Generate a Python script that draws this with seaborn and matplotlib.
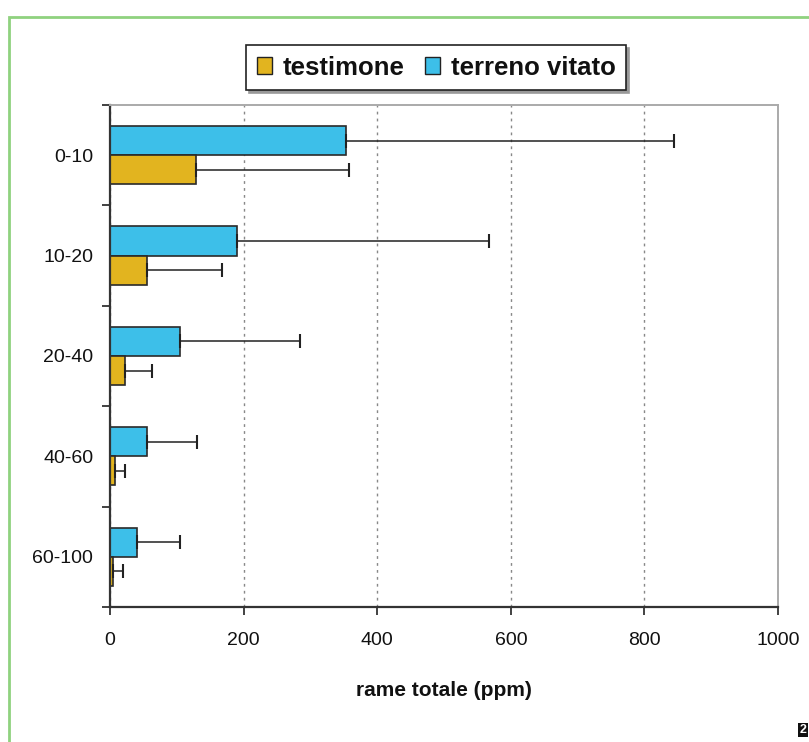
import pandas as pd
import matplotlib.pyplot as plt
import matplotlib.patches as mpatches
from matplotlib.ticker import FixedLocator, NullFormatter
import seaborn as sb

depths = ['0-10', '10-20', '20-40', '40-60', '60-100']
testimone = [128, 56, 22, 8, 4]
testimone_err = [230, 112, 41, 14, 15]
vitato = [353, 190, 105, 55, 40]
vitato_err = [491, 377, 179, 75, 65]
x_ticks = [0, 200, 400, 600, 800, 1000]

df = pd.DataFrame({'depth': depths * 2,
                   'value': vitato + testimone,
                   'serie': ['terreno vitato'] * 5 + ['testimone'] * 5})
errs = {'terreno vitato': vitato_err, 'testimone': testimone_err}

sb.set_style('white')
plt.rcParams['font.family'] = ['Liberation Sans', 'DejaVu Sans']
plt.rcParams['text.color'] = '#111111'
plt.rcParams['xtick.color'] = '#111111'
plt.rcParams['ytick.color'] = '#111111'
plt.rcParams['axes.labelcolor'] = '#111111'

blue = '#3DBFE9'
gold = '#E2B41F'

fig = plt.figure(figsize=(8.09, 7.42), dpi=100)
ax = fig.add_axes([0.136, 0.182, 0.8257, 0.6765])
sb.barplot(data=df, y='depth', x='value', hue='serie', orient='h',
           hue_order=['terreno vitato', 'testimone'], order=depths,
           palette=[blue, gold], width=0.58, errorbar=None,
           edgecolor='#2a2a2a', linewidth=1.2, saturation=1, legend=False, ax=ax)

for cont, name in zip(ax.containers, ['terreno vitato', 'testimone']):
    for bar, e in zip(cont, errs[name]):
        ax.errorbar(bar.get_width(), bar.get_y() + bar.get_height() / 2,
                    xerr=[[0], [e]], fmt='none', ecolor='#222222',
                    elinewidth=1.1, capsize=5, capthick=1.5, clip_on=False, zorder=5)

ax.set_xlim(0, 1000)
ax.set_ylim(4.5, -0.5)
ax.set_xticks(x_ticks)
ax.set_xticklabels([str(t) for t in x_ticks], fontsize=14)
ax.yaxis.set_major_locator(FixedLocator([-0.5, 0.5, 1.5, 2.5, 3.5, 4.5]))
ax.yaxis.set_major_formatter(NullFormatter())
ax.yaxis.set_minor_locator(FixedLocator(range(5)))
ax.set_yticklabels(depths, minor=True, fontsize=14)
ax.tick_params(axis='y', which='major', left=True, length=6, width=1.3, color='#333333', direction='out')
ax.tick_params(axis='y', which='minor', left=False, length=0, pad=12)
ax.tick_params(axis='x', bottom=True, length=6, width=1.3, color='#333333', direction='out', pad=12)
ax.set_ylabel('')
ax.set_xlabel('rame totale (ppm)', fontsize=15, fontweight='bold', labelpad=23)

ax.grid(axis='x', color='#888888', linestyle=(0, (2, 3)), linewidth=1)
ax.set_axisbelow(True)
for s in ['left', 'bottom']:
    ax.spines[s].set_color('#333333')
    ax.spines[s].set_linewidth(1.6)
for s in ['top', 'right']:
    ax.spines[s].set_color('#aaaaaa')
    ax.spines[s].set_linewidth(1.4)

handles = [mpatches.Patch(facecolor=gold, edgecolor='#222222', label='testimone'),
           mpatches.Patch(facecolor=blue, edgecolor='#222222', label='terreno vitato')]
leg = fig.legend(handles=handles, loc='center', bbox_to_anchor=(0.539, 0.909), ncol=2,
                 frameon=True, fancybox=False, prop={'weight': 'bold', 'size': 18.5},
                 handlelength=0.6, handleheight=0.6, handletextpad=0.4, columnspacing=0.8,
                 borderpad=0.42, edgecolor='#222222', shadow={'color': '#999999', 'alpha': 1})
leg.get_frame().set_linewidth(1.2)

fig.patches.append(mpatches.Rectangle((9 / 809, -0.2), 1.2, 1.2 - 17 / 742, transform=fig.transFigure,
                                      fill=False, edgecolor='#8fd27f', linewidth=2))
fig.text(0.988, 0.012, '2', fontsize=9, color='white', fontweight='bold',
         bbox=dict(facecolor='#111111', edgecolor='none', pad=1))

plt.savefig('out.png', dpi=100)
